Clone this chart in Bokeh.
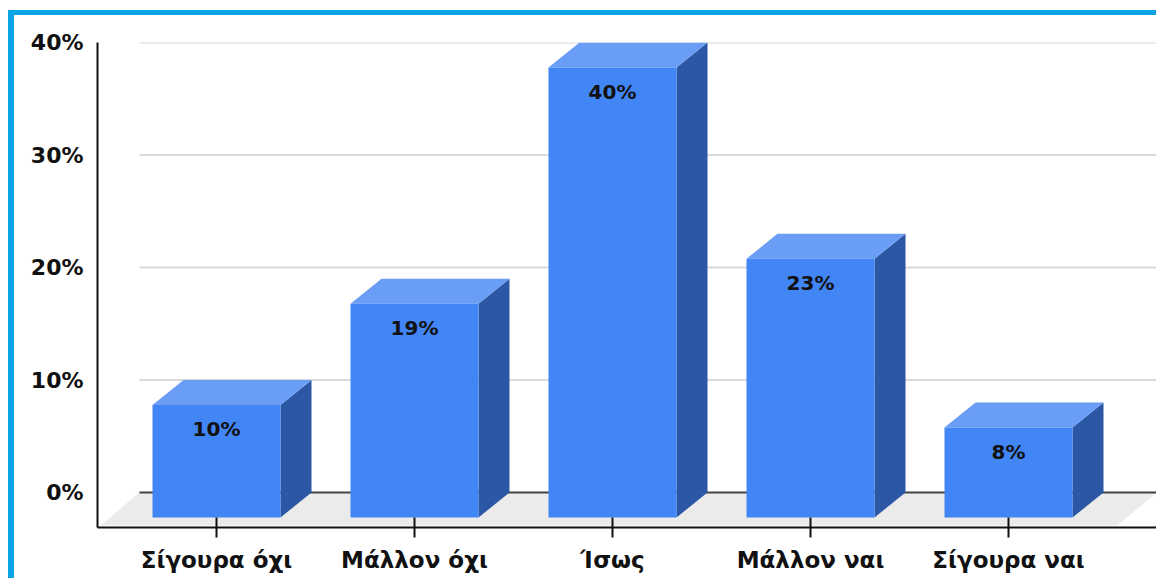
from bokeh.plotting import figure
from bokeh.models import Range1d, FixedTicker, ColumnDataSource
from bokeh.core.properties import value
from bokeh.embed import file_html
from bokeh.resources import INLINE

# ---- data ----
categories = ["Σίγουρα όχι", "Μάλλον όχι", "Ίσως", "Μάλλον ναι", "Σίγουρα ναι"]
values = [10, 19, 40, 23, 8]          # percent, drawn heights
labels = ["10%", "19%", "40%", "23%", "8%"]
y_ticks = [0, 10, 20, 30, 40]

# ---- geometry / style ----
FONT = "DejaVu Sans"
PX_PER_PCT = 11.25          # vertical scale (pixels per percent)
PX_PER_CAT = 198.0          # horizontal scale (pixels per category)
BAR_W = 128 / PX_PER_CAT    # bar width in category units
DX = 31 / PX_PER_CAT        # 3D depth offset, x
DY = 25 / PX_PER_PCT        # 3D depth offset, y
FLOOR_DX = 39 / PX_PER_CAT
FLOOR_DY = 33 / PX_PER_PCT

FRONT_C = "#4285f4"
TOP_C = "#6a9ef6"
SIDE_C = "#2b57a5"
BORDER_C = "#0aa5e6"

# page border (CSS) : left 8..14, top 10..15 ; canvas starts after it
OFF_X, OFF_Y = 14, 15
W, H = 1162 - OFF_X, 583 - OFF_Y
frame_left, frame_right, frame_top, frame_bottom = 97 - OFF_X, 1157 - OFF_X, 42 - OFF_Y, 527 - OFF_Y

x0 = -(216 - 97) / PX_PER_CAT
x1 = x0 + (frame_right - frame_left) / PX_PER_CAT
y1 = 40
y0 = y1 - (frame_bottom - frame_top) / PX_PER_PCT

p = figure(width=W, height=H, output_backend="svg", toolbar_location=None,
           x_range=Range1d(x0, x1), y_range=Range1d(y0, y1),
           min_border_left=frame_left, min_border_right=W - frame_right,
           min_border_top=frame_top, min_border_bottom=H - frame_bottom)
p.styles = {"margin-left": "8px", "margin-top": "10px",
            "border-top": f"5px solid {BORDER_C}", "border-left": f"6px solid {BORDER_C}"}
p.outline_line_color = None
p.xgrid.visible = False
p.ygrid.visible = False
p.background_fill_color = "white"
p.border_fill_color = "white"

n = len(categories)
xs_c = list(range(n))

# floor
fl_front = -33 / PX_PER_PCT
floor_x = [x0 + 3 / PX_PER_CAT, x0 + (1117 - 97) / PX_PER_CAT,
           x0 + (1117 - 97) / PX_PER_CAT + FLOOR_DX, x0 + 3 / PX_PER_CAT + FLOOR_DX]
floor_y = [fl_front, fl_front, fl_front + FLOOR_DY, fl_front + FLOOR_DY]
p.patch(floor_x, floor_y, fill_color="#ebebeb", line_color=None)

# back gridlines
gx0 = floor_x[3]
gx1 = x1
p.segment(x0=[gx0] * (len(y_ticks) - 1), y0=y_ticks[1:], x1=[gx1] * (len(y_ticks) - 1), y1=y_ticks[1:],
          line_color="#d9d9d9", line_width=2)
p.segment(x0=[gx0], y0=[0], x1=[gx1], y1=[0], line_color="#444444", line_width=2)

# bars
front_xs, front_ys, top_xs, top_ys, side_xs, side_ys = [], [], [], [], [], []
for c, v in zip(xs_c, values):
    xl, xr = c - BAR_W / 2, c + BAR_W / 2
    b = -DY
    t = v - DY
    front_xs.append([xl, xr, xr, xl]); front_ys.append([b, b, t, t])
    top_xs.append([xl, xr, xr + DX, xl + DX]); top_ys.append([t, t, v, v])
    side_xs.append([xr, xr + DX, xr + DX, xr]); side_ys.append([b, 0, v, t])

p.patches(side_xs, side_ys, fill_color=SIDE_C, line_color=None)
p.patches(top_xs, top_ys, fill_color=TOP_C, line_color=None)
p.patches(front_xs, front_ys, fill_color=FRONT_C, line_color=None)

# bar value labels
lab_src = ColumnDataSource(dict(x=xs_c, y=[v - DY - 24 / PX_PER_PCT for v in values], text=labels))
p.text(x="x", y="y", text="text", source=lab_src, text_font=value(FONT), text_font_style="bold",
       text_font_size="20px", text_color="#111111", text_align="center", text_baseline="middle")

# axes
p.yaxis.ticker = FixedTicker(ticks=y_ticks)
p.yaxis.major_label_overrides = {t: f"{t}%" for t in y_ticks}
p.yaxis.major_tick_line_color = None
p.yaxis.major_tick_in = 0
p.yaxis.major_tick_out = 0
p.yaxis.minor_tick_line_color = None
p.yaxis.axis_line_color = "#111111"
p.yaxis.axis_line_width = 2
p.yaxis.major_label_text_font = FONT
p.yaxis.major_label_text_font_style = "bold"
p.yaxis.major_label_text_font_size = "22px"
p.yaxis.major_label_text_color = "#111111"
p.yaxis.major_label_standoff = 14

p.xaxis.ticker = FixedTicker(ticks=xs_c)
p.xaxis.major_label_overrides = {i: c for i, c in enumerate(categories)}
p.xaxis.minor_tick_line_color = None
p.xaxis.major_tick_in = 10
p.xaxis.major_tick_out = 10
p.xaxis.major_tick_line_color = "#111111"
p.xaxis.major_tick_line_width = 2
p.xaxis.axis_line_color = "#111111"
p.xaxis.axis_line_width = 2
p.xaxis.major_label_text_font = FONT
p.xaxis.major_label_text_font_style = "bold"
p.xaxis.major_label_text_font_size = "23px"
p.xaxis.major_label_text_color = "#111111"
p.xaxis.major_label_standoff = 9

open("out.html", "w").write(file_html(p, INLINE))
